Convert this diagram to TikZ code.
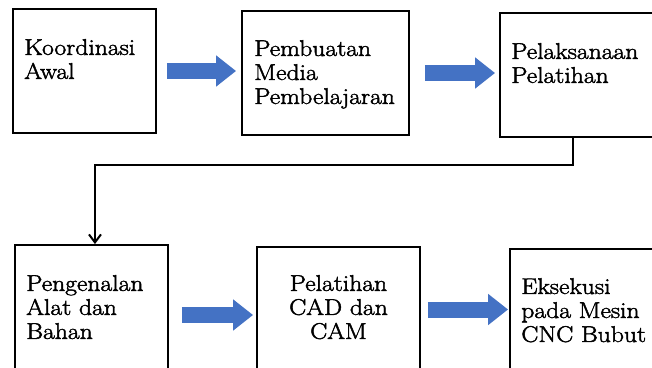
\documentclass[tikz,border=0pt]{standalone}
\usepackage{fontspec}
\newfontfamily\boxfont{Latin Modern Roman}[FakeStretch=1.13, FakeBold=2]
\usepackage{tikz}
\usetikzlibrary{positioning, arrows.meta}
\definecolor{arrowblue}{RGB}{68,114,196}

\begin{document}
\begin{tikzpicture}[
    x=0.75pt, y=-0.75pt,
    box/.style={rectangle, draw=black, line width=1.4pt, inner sep=0pt},
    txt/.style={align=left, inner sep=0pt, font=\boxfont\fontsize{17pt}{18pt}\selectfont},
    blok/.style={draw=arrowblue, line width=12pt, -{Triangle[length=15pt, width=22.5pt]}},
    conn/.style={line width=1.5pt, -{Straight Barb[length=6pt, width=9pt]}}
]
    \path[use as bounding box, clip] (0,0) rectangle (652,367);

    % Top row
    \node[box, minimum width=107.25pt, minimum height=93pt] (koord) at (84.5,71) {};
    \node[box, minimum width=125.25pt, minimum height=93pt] (pemb) at (325.5,73) {};
    \node[box, minimum width=150pt, minimum height=93pt] (pelaks) at (600,75) {};

    % Bottom row
    \node[box, minimum width=114.75pt, minimum height=105pt] (kenal) at (91.5,315) {};
    \node[box, minimum width=122.25pt, minimum height=93.75pt] (cad) at (338.5,309.5) {};
    \node[box, minimum width=150pt, minimum height=98.25pt] (eksek) at (610,314.5) {};

    % Labels
    \node[txt, below right=23.1pt and 9pt of koord.north west] (koordtxt) {Koordinasi\\Awal};
    \node[txt, below right=22.4pt and 9.75pt of pemb.north west] (pembtxt) {Pembuatan\\Media\\Pembelajaran};
    \node[txt, below right=23.1pt and 9pt of pelaks.north west] (pelakstxt) {Pelaksanaan\\Pelatihan};
    \node[txt, below right=23.1pt and 9pt of kenal.north west] (kenaltxt) {Pengenalan\\Alat dan\\Bahan};
    \node[txt, align=center, below=21.6pt of cad.north] (cadtxt) {Pelatihan\\CAD dan\\CAM};
    \node[txt, below right=22.4pt and 9pt of eksek.north west] (eksektxt) {Eksekusi\\pada Mesin\\CNC Bubut};

    % Block arrows
    \draw[blok, shorten <=7.5pt, shorten >=3.75pt] (koord.east) -- (koord.east -| pemb.west);
    \draw[blok, shorten <=11.25pt, shorten >=3pt] (pemb.east) -- (pemb.east -| pelaks.west);
    \draw[blok, shorten <=9.75pt, shorten >=2.25pt] (kenal.east) -- (kenal.east -| cad.west);
    \draw[blok, shorten <=5.25pt, shorten >=0.75pt] (cad.east) -- (cad.east -| eksek.west);

    % Line down to second row
    \draw[conn] ([xshift=55.5pt]pelaks.south west) -- ++(0,27) -| ([xshift=2.6pt]kenal.north);
\end{tikzpicture}
\end{document}
